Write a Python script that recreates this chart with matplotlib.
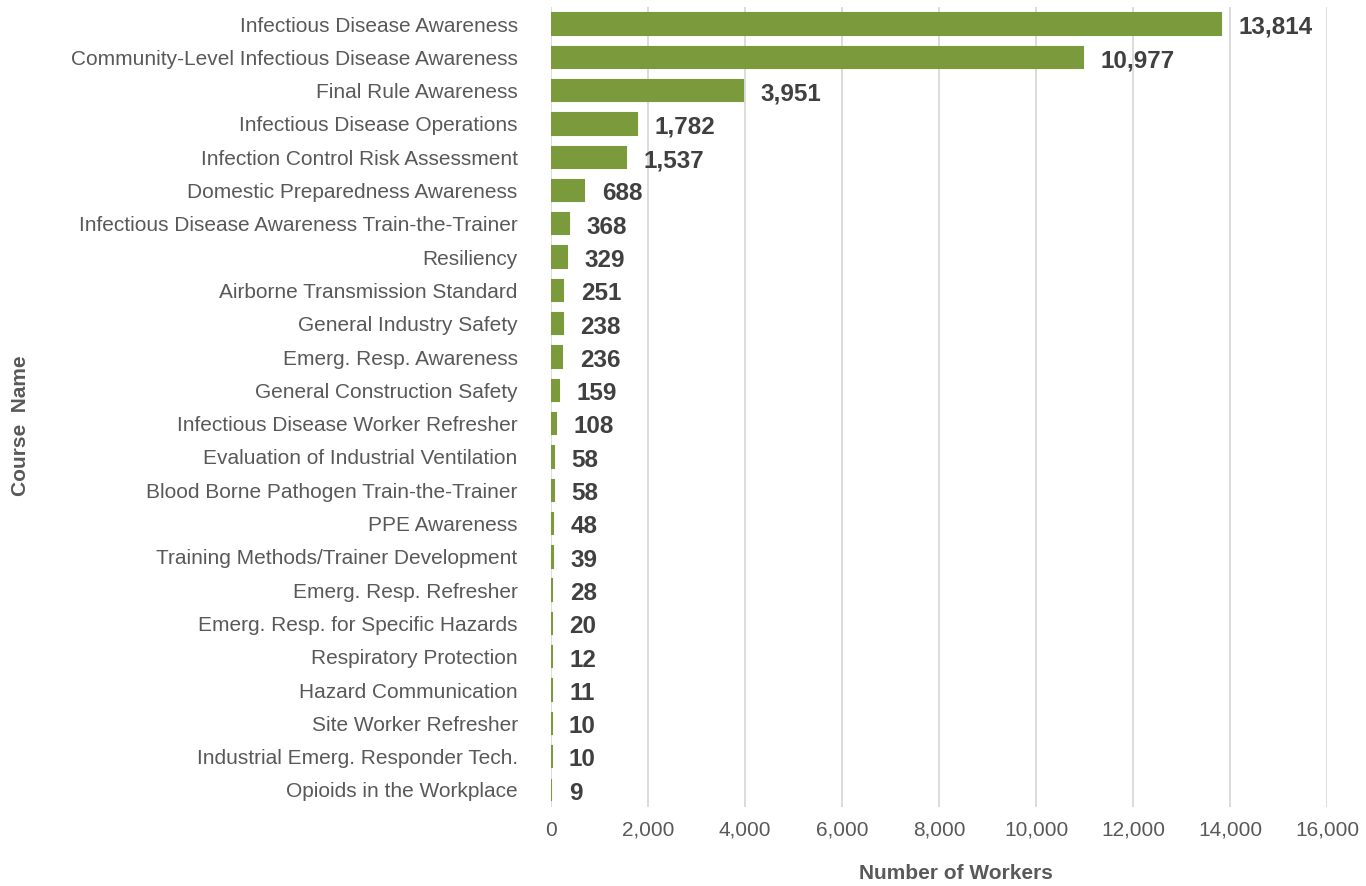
import matplotlib.pyplot as plt
from matplotlib.ticker import FuncFormatter

# Course enrolments, top to bottom as shown
courses = [
    "Infectious Disease Awareness",
    "Community-Level Infectious Disease Awareness",
    "Final Rule Awareness",
    "Infectious Disease Operations",
    "Infection Control Risk Assessment",
    "Domestic Preparedness Awareness",
    "Infectious Disease Awareness Train-the-Trainer",
    "Resiliency",
    "Airborne Transmission Standard",
    "General Industry Safety",
    "Emerg. Resp. Awareness",
    "General Construction Safety",
    "Infectious Disease Worker Refresher",
    "Evaluation of Industrial Ventilation",
    "Blood Borne Pathogen Train-the-Trainer",
    "PPE Awareness",
    "Training Methods/Trainer Development",
    "Emerg. Resp. Refresher",
    "Emerg. Resp. for Specific Hazards",
    "Respiratory Protection",
    "Hazard Communication",
    "Site Worker Refresher",
    "Industrial Emerg. Responder Tech.",
    "Opioids in the Workplace",
]
workers = [13814, 10977, 3951, 1782, 1537, 688, 368, 329, 251, 238, 236, 159,
           108, 58, 58, 48, 39, 28, 20, 12, 11, 10, 10, 9]
x_ticks = list(range(0, 16001, 2000))

plt.rcParams["font.family"] = ["Liberation Sans", "DejaVu Sans"]

fig = plt.figure(figsize=(13.66, 8.86), dpi=100)
ax = fig.add_axes([0.4034, 0.0896, 0.5681, 0.9021])

pos = list(range(len(courses)))
# thin edge in bar colour so that tiny values still show as a sliver
ax.barh(pos, workers, height=0.64, color="#7a9a3c", edgecolor="#7a9a3c",
        linewidth=1.5, zorder=3)
ax.set_ylim(len(courses) - 0.5, -0.5)
ax.set_xlim(0, 16000)

for p, v in zip(pos, workers):
    ax.text(v + 360, p + 0.1, f"{v:,}", va="center", ha="left",
            fontsize=17.5, fontweight="bold", color="#404040")

ax.set_yticks(pos)
ax.set_yticklabels(courses)
ax.set_xticks(x_ticks)
ax.xaxis.set_major_formatter(FuncFormatter(lambda v, _: f"{int(v):,}"))
ax.tick_params(axis="y", length=0, pad=24, labelsize=15, labelcolor="#595959")
ax.tick_params(axis="x", length=0, pad=10, labelsize=15, labelcolor="#595959")

ax.grid(axis="x", color="#d9d9d9", linewidth=1.3, zorder=0)
for s in ax.spines.values():
    s.set_visible(False)

fig.text(0.70, 0.003, "Number of Workers", ha="center", va="bottom",
         fontsize=15, fontweight="bold", color="#595959")
fig.text(0.015, 0.52, "Course  Name", ha="center", va="center", rotation=90,
         fontsize=15, fontweight="bold", color="#595959")

fig.savefig("out.png", dpi=100)
